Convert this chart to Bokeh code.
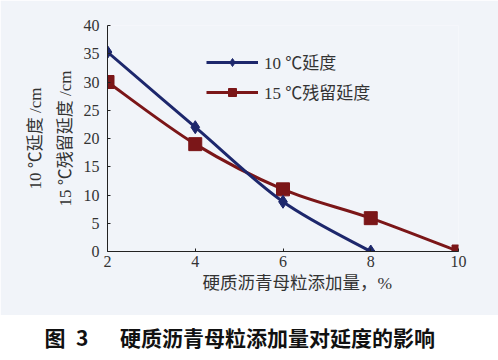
import numpy as np
from bokeh.plotting import figure
from bokeh.layouts import column
from bokeh.models import Range1d, Legend, LegendItem, FixedTicker, Title
from bokeh.embed import file_html
from bokeh.resources import INLINE

# Data
dosage = [2, 4, 6, 8, 10]
ductility_10 = [35.3, 22, 8.8, 0]          # 10 ℃延度, at dosage 2..8
residual_15 = [30, 19, 11, 5.9, 0]         # 15 ℃残留延度, at dosage 2..10
x_ticks = [2, 4, 6, 8, 10]
y_ticks = [0, 5, 10, 15, 20, 25, 30, 35, 40]
series_names = ["10 ℃延度", "15 ℃残留延度"]
x_label = "硬质沥青母粒添加量，%"
y_label_1 = "10 ℃延度 /cm"
y_label_2 = "15 ℃残留延度 /cm"
caption = "图\u20023\u3000\u2002硬质沥青母粒添加量对延度的影响"

BLUE = "#1d276c"
RED = "#7b1618"
BG = "#f1f4f9"
SERIF = "Liberation Serif, Noto Sans CJK SC"
TXT = "#333333"

W = 498
ML = 107
p = figure(width=W, height=315, output_backend="svg", toolbar_location=None,
           x_range=Range1d(2, 10), y_range=Range1d(0, 40),
           min_border_left=ML, min_border_right=40, min_border_top=25, min_border_bottom=64)
p.background_fill_color = BG
p.border_fill_color = BG
p.outline_line_color = None
p.grid.visible = False

for ax in (p.xaxis[0], p.yaxis[0]):
    ax.major_label_text_font = SERIF
    ax.major_label_text_font_size = "16px"
    ax.major_label_text_color = TXT
    ax.axis_line_color = "#222222"
    ax.major_tick_line_color = "#222222"
    ax.major_tick_in = 3
    ax.major_tick_out = 0
    ax.minor_tick_line_color = None
    ax.axis_line_width = 1

p.xaxis.ticker = FixedTicker(ticks=x_ticks)
p.yaxis.ticker = FixedTicker(ticks=y_ticks)
p.xaxis.major_label_standoff = 4
p.yaxis.major_label_standoff = 8

# x-axis title (placed below the axis, slightly right of centre as in the original)
p.add_layout(Title(text=x_label, align="left", offset=202 - ML, text_font=SERIF,
                   text_font_size="17.5px", text_font_style="normal", text_color=TXT,
                   standoff=3), "below")


def smooth_segments(xs, ys):
    """Catmull-Rom control points for drawing a smooth line through the data."""
    n = len(xs)
    x0, y0, x1, y1, cx0, cy0, cx1, cy1 = [], [], [], [], [], [], [], []
    for i in range(n - 1):
        pa = (xs[max(i - 1, 0)], ys[max(i - 1, 0)])
        pb = (xs[i], ys[i])
        pc = (xs[i + 1], ys[i + 1])
        pd = (xs[min(i + 2, n - 1)], ys[min(i + 2, n - 1)])
        x0.append(pb[0]); y0.append(pb[1]); x1.append(pc[0]); y1.append(pc[1])
        cx0.append(pb[0] + (pc[0] - pa[0]) / 6); cy0.append(pb[1] + (pc[1] - pa[1]) / 6)
        cx1.append(pc[0] - (pd[0] - pb[0]) / 6); cy1.append(pc[1] - (pd[1] - pb[1]) / 6)
    return dict(x0=x0, y0=y0, x1=x1, y1=y1, cx0=cx0, cy0=cy0, cx1=cx1, cy1=cy1)


bx = dosage[:len(ductility_10)]
rx = dosage[:len(residual_15)]
rb = p.bezier(source=smooth_segments(rx, residual_15), x0="x0", y0="y0", x1="x1", y1="y1",
              cx0="cx0", cy0="cy0", cx1="cx1", cy1="cy1", line_color=RED, line_width=3)
rm = p.scatter(rx, residual_15, marker="square", size=13, fill_color=RED, line_color=RED)
bb = p.bezier(source=smooth_segments(bx, ductility_10), x0="x0", y0="y0", x1="x1", y1="y1",
              cx0="cx0", cy0="cy0", cx1="cx1", cy1="cy1", line_color=BLUE, line_width=3)
bm = p.scatter(bx, ductility_10, marker="diamond", size=13, fill_color=BLUE, line_color=BLUE)

# legend proxies (line + marker)
lb = p.line([np.nan, np.nan], [np.nan, np.nan], line_color=BLUE, line_width=3)
lr = p.line([np.nan, np.nan], [np.nan, np.nan], line_color=RED, line_width=3)
legend = Legend(items=[LegendItem(label=series_names[0], renderers=[lb, bm]),
                       LegendItem(label=series_names[1], renderers=[lr, rm])],
                location=(99, 147), orientation="vertical",
                background_fill_alpha=0, border_line_color=None,
                label_text_font=SERIF, label_text_font_size="17px", label_text_color=TXT,
                glyph_width=52, glyph_height=20, spacing=5, padding=4, margin=0,
                label_standoff=6)
p.add_layout(legend)

# rotated y-axis labels (two lines) as side titles
p.add_layout(Title(text=y_label_2, align="center", text_font=SERIF, text_font_size="17px",
                   text_font_style="normal", text_color=TXT, standoff=12), "left")
p.add_layout(Title(text=y_label_1, align="center", text_font=SERIF, text_font_size="17px",
                   text_font_style="normal", text_color=TXT, standoff=6), "left")

# caption strip below the chart (its frame is aligned with the chart's frame)
cap = figure(width=W, height=45, output_backend="svg", toolbar_location=None,
             x_range=Range1d(0, 1), y_range=Range1d(0, 1),
             x_axis_location=None, y_axis_location=None,
             min_border_left=ML, min_border_right=40, min_border_top=36, min_border_bottom=0)
cap.grid.visible = False
cap.outline_line_color = None
cap.background_fill_color = "white"
cap.border_fill_color = "white"
cap.add_layout(Title(text=caption, align="left", offset=44 - ML, text_font="Noto Sans CJK SC",
                     text_font_size="21px", text_font_style="bold", text_color="#111111",
                     standoff=0), "above")

open("out.html", "w").write(file_html(column(p, cap, spacing=0), INLINE))
